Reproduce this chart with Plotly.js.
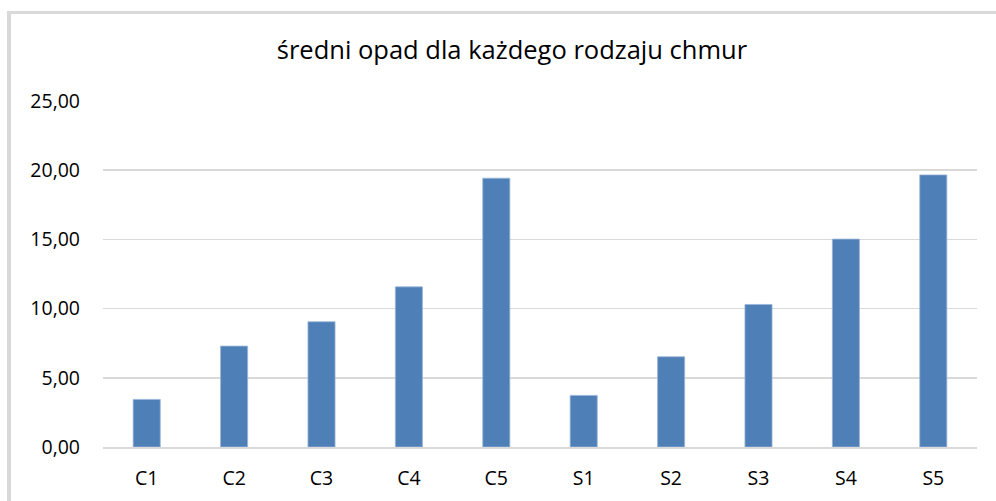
<!DOCTYPE html>
<html>
<head>
<meta charset="utf-8">
<script src="https://cdn.plot.ly/plotly-3.0.1.min.js"></script>
<style>
html,body{margin:0;padding:0;background:#fff;}
#wrap{position:relative;width:996px;height:501px;overflow:hidden;}
#chart{width:996px;height:501px;}
#frame{position:absolute;left:7px;top:11px;width:1100px;height:700px;border-left:4px solid #d9d9d9;border-top:3px solid #d9d9d9;pointer-events:none;}
</style>
</head>
<body>
<div id="wrap"><div id="chart"></div><div id="frame"></div></div>
<script>
const categories = ["C1","C2","C3","C4","C5","S1","S2","S3","S4","S5"];
const avgRain = [3.44, 7.29, 9.05, 11.57, 19.42, 3.73, 6.52, 10.30, 15.02, 19.66];
const chartTitle = "średni opad dla każdego rodzaju chmur";
const yTicks = [0, 5, 10, 15, 20, 25];

const font = "Open Sans, Noto Sans, sans-serif";
Plotly.newPlot("chart", [{
  type: "bar",
  x: categories,
  y: avgRain,
  marker: {color: "#4f7fb7", line: {color: "#9bb6d8", width: 0.8}},
  hoverinfo: "x+y"
}], {
  width: 996, height: 501,
  margin: {l: 103, r: 19, t: 101, b: 54},
  paper_bgcolor: "#fff", plot_bgcolor: "#fff",
  separators: ",.",
  bargap: 0.69,
  showlegend: false,
  title: {text: chartTitle, x: 0.514, xanchor: "center", y: 0.9, yanchor: "middle",
          font: {family: font, size: 25.5, color: "#000"}},
  xaxis: {tickfont: {family: font, size: 19.5, color: "#000"}, showgrid: false,
          showline: true, linecolor: "#d9d9d9", linewidth: 2, ticks: "", ticklabelstandoff: 13},
  yaxis: {range: [0, 25], tickvals: yTicks, tickformat: ".2f", showgrid: true,
          gridcolor: "#d9d9d9", gridwidth: 1.5, zeroline: false,
          tickfont: {family: font, size: 19.5, color: "#000"}, ticks: "", ticklabelstandoff: 22}
}, {displayModeBar: false, staticPlot: true});
</script>
</body>
</html>
